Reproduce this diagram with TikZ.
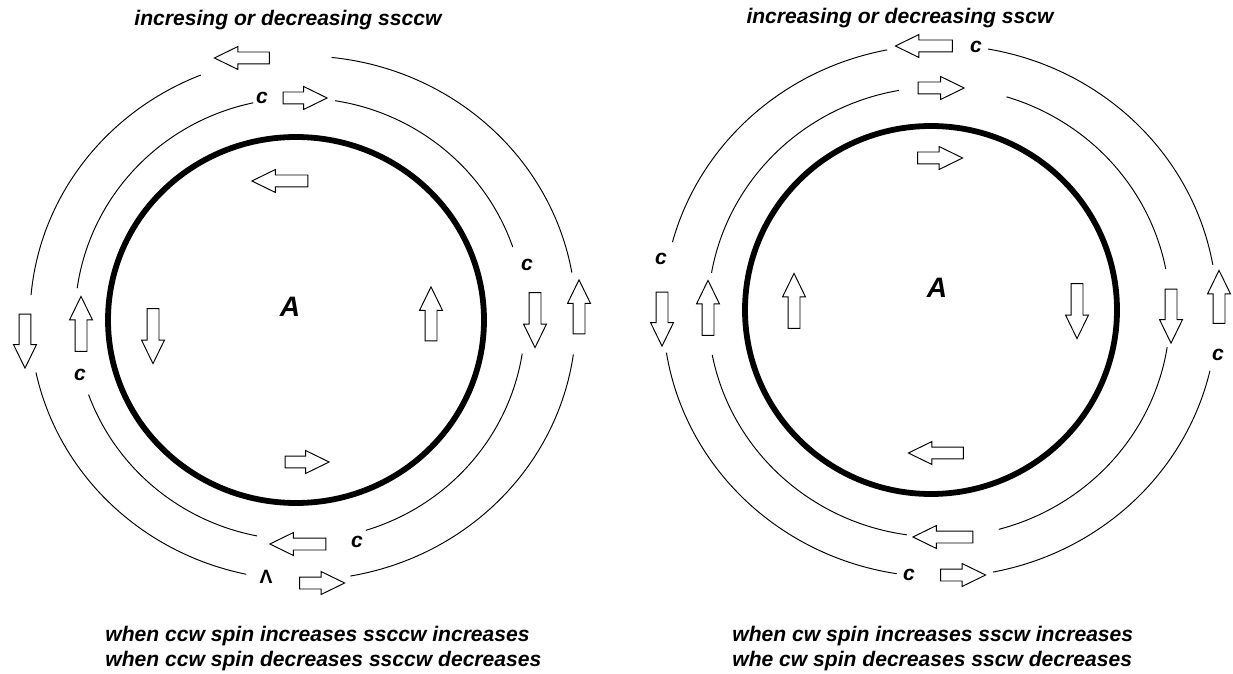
\documentclass[tikz,border=0pt]{standalone}
\usepackage{fontspec}
\setmainfont{Liberation Sans}
\usetikzlibrary{shapes.arrows}
\definecolor{ink}{HTML}{000000}
\definecolor{paper}{HTML}{FFFFFF}
\tikzset{
  rim/.style={draw=ink, line width=3.3pt},
  ring/.style={draw=ink, line width=0.55pt},
  blockarrow/.style={single arrow, draw=ink, fill=paper, line width=0.55pt,
                     single arrow head extend=0.11cm, single arrow tip angle=52,
                     inner sep=0.11cm, minimum height=#1},
  lbl/.style={font=\fontsize{12}{14}\selectfont\bfseries\itshape, text=ink, inner sep=0pt},
  bigA/.style={font=\fontsize{16}{18}\selectfont\bfseries\itshape, text=ink, inner sep=0pt},
  caret/.style={font=\fontsize{11}{12}\selectfont\bfseries, text=ink, inner sep=0pt}
}
\begin{document}
\begin{tikzpicture}[x=0.02cm,y=0.02cm]
  \path[fill=paper] (0,0) rectangle (1233,673);
  \coordinate (Lin) at (296,353);
  \coordinate (Lmid) at (300,354);
  \coordinate (Lout) at (303,355);
  \coordinate (Rin) at (931,363);
  \coordinate (Rmid) at (939,361);
  \coordinate (Rout) at (940,362);

  \draw[rim] (Lin) ellipse [x radius=188, y radius=183];
  \draw[ring] ([shift={(10:273 and 262)}]Lout) arc[start angle=10, end angle=84, x radius=273, y radius=262];
  \draw[ring] ([shift={(112:273 and 262)}]Lout) arc[start angle=112, end angle=175, x radius=273, y radius=262];
  \draw[ring] ([shift={(192:273 and 262)}]Lout) arc[start angle=192, end angle=258, x radius=273, y radius=262];
  \draw[ring] ([shift={(280:273 and 262)}]Lout) arc[start angle=280, end angle=352, x radius=273, y radius=262];
  \draw[ring] ([shift={(19:225 and 221)}]Lmid) arc[start angle=19, end angle=81, x radius=225, y radius=221];
  \draw[ring] ([shift={(102:225 and 221)}]Lmid) arc[start angle=102, end angle=172, x radius=225, y radius=221];
  \draw[ring] ([shift={(200:225 and 221)}]Lmid) arc[start angle=200, end angle=259, x radius=225, y radius=221];
  \draw[ring] ([shift={(287:225 and 221)}]Lmid) arc[start angle=287, end angle=351, x radius=225, y radius=221];

  \draw[rim] (Rin) ellipse [x radius=186, y radius=184];
  \draw[ring] ([shift={(10:277 and 266)}]Rout) arc[start angle=10, end angle=80, x radius=277, y radius=266];
  \draw[ring] ([shift={(101:277 and 266)}]Rout) arc[start angle=101, end angle=165, x radius=277, y radius=266];
  \draw[ring] ([shift={(189:277 and 266)}]Rout) arc[start angle=189, end angle=261, x radius=277, y radius=266];
  \draw[ring] ([shift={(281:277 and 266)}]Rout) arc[start angle=281, end angle=347, x radius=277, y radius=266];
  \draw[ring] ([shift={(11:231 and 225)}]Rmid) arc[start angle=11, end angle=73, x radius=231, y radius=225];
  \draw[ring] ([shift={(100:231 and 225)}]Rmid) arc[start angle=100, end angle=170, x radius=231, y radius=225];
  \draw[ring] ([shift={(191:231 and 225)}]Rmid) arc[start angle=191, end angle=262, x radius=231, y radius=225];
  \draw[ring] ([shift={(285:231 and 225)}]Rmid) arc[start angle=285, end angle=351, x radius=231, y radius=225];

  \node[lbl] (Ltitle) at (288,653) {incresing or decreasing ssccw};
  \node[bigA] (LA) at (290,366) {A};
  \node[blockarrow=1.1cm, shape border rotate=180] (Lo1) at (248,615) {};
  \node[blockarrow=0.88cm] (Lm1) at (299,575) {};
  \node[blockarrow=1.12cm, shape border rotate=180] (Li1) at (286,492) {};
  \node[blockarrow=1.08cm, shape border rotate=270] (Lo2) at (25,338) {};
  \node[blockarrow=1.1cm, shape border rotate=90] (Lm2) at (81,343) {};
  \node[blockarrow=1.1cm, shape border rotate=270] (Li2) at (153,343) {};
  \node[blockarrow=1.08cm, shape border rotate=90] (Li3) at (431,353) {};
  \node[blockarrow=1.1cm, shape border rotate=270] (Lm3) at (535,359) {};
  \node[blockarrow=1.08cm, shape border rotate=90] (Lo3) at (579,360) {};
  \node[blockarrow=0.88cm] (Li4) at (301,211) {};
  \node[blockarrow=1.12cm, shape border rotate=180] (Lm4) at (304,129) {};
  \node[blockarrow=0.9cm] (Lo4) at (316,90) {};
  \node[lbl] (Lc1) at (262,575) {c};
  \node[lbl] (Lc2) at (80,298) {c};
  \node[lbl] (Lc3) at (527,408) {c};
  \node[lbl] (Lc4) at (357,131) {c};
  \node[caret] (Lhat) at (266,96) {Λ};

  \node[lbl] (Rtitle) at (900,655) {increasing or decreasing sscw};
  \node[bigA] (RA) at (937,385) {A};
  \node[blockarrow=1.14cm, shape border rotate=180] (Ro1) at (930,627) {};
  \node[blockarrow=0.92cm] (Rm1) at (935,585) {};
  \node[blockarrow=0.9cm] (Ri1) at (934,515) {};
  \node[blockarrow=1.08cm, shape border rotate=270] (Ro2) at (662,360) {};
  \node[blockarrow=1.1cm, shape border rotate=90] (Rm2) at (708,359) {};
  \node[blockarrow=1.1cm, shape border rotate=90] (Ri2) at (794,366) {};
  \node[blockarrow=1.1cm, shape border rotate=270] (Ri3) at (1077,368) {};
  \node[blockarrow=1.08cm, shape border rotate=270] (Rm3) at (1171,363) {};
  \node[blockarrow=1.06cm, shape border rotate=90] (Ro3) at (1219,370) {};
  \node[blockarrow=1.1cm, shape border rotate=180] (Ri4) at (942,220) {};
  \node[blockarrow=1.2cm, shape border rotate=180] (Rm4) at (949,136) {};
  \node[blockarrow=0.9cm] (Ro4) at (957,98) {};
  \node[lbl] (Rc1) at (976,626) {c};
  \node[lbl] (Rc2) at (661,414) {c};
  \node[lbl] (Rc3) at (1218,318) {c};
  \node[lbl] (Rc4) at (909,98) {c};

  \node[lbl, anchor=west] (Lnote1) at (105,37) {when ccw spin increases ssccw increases};
  \node[lbl, anchor=west] (Lnote2) at (105,12) {when ccw spin decreases ssccw decreases};
  \node[lbl, anchor=west] (Rnote1) at (732,37) {when cw spin increases sscw increases};
  \node[lbl, anchor=west] (Rnote2) at (732,12) {whe cw spin decreases sscw decreases};
\end{tikzpicture}
\end{document}
